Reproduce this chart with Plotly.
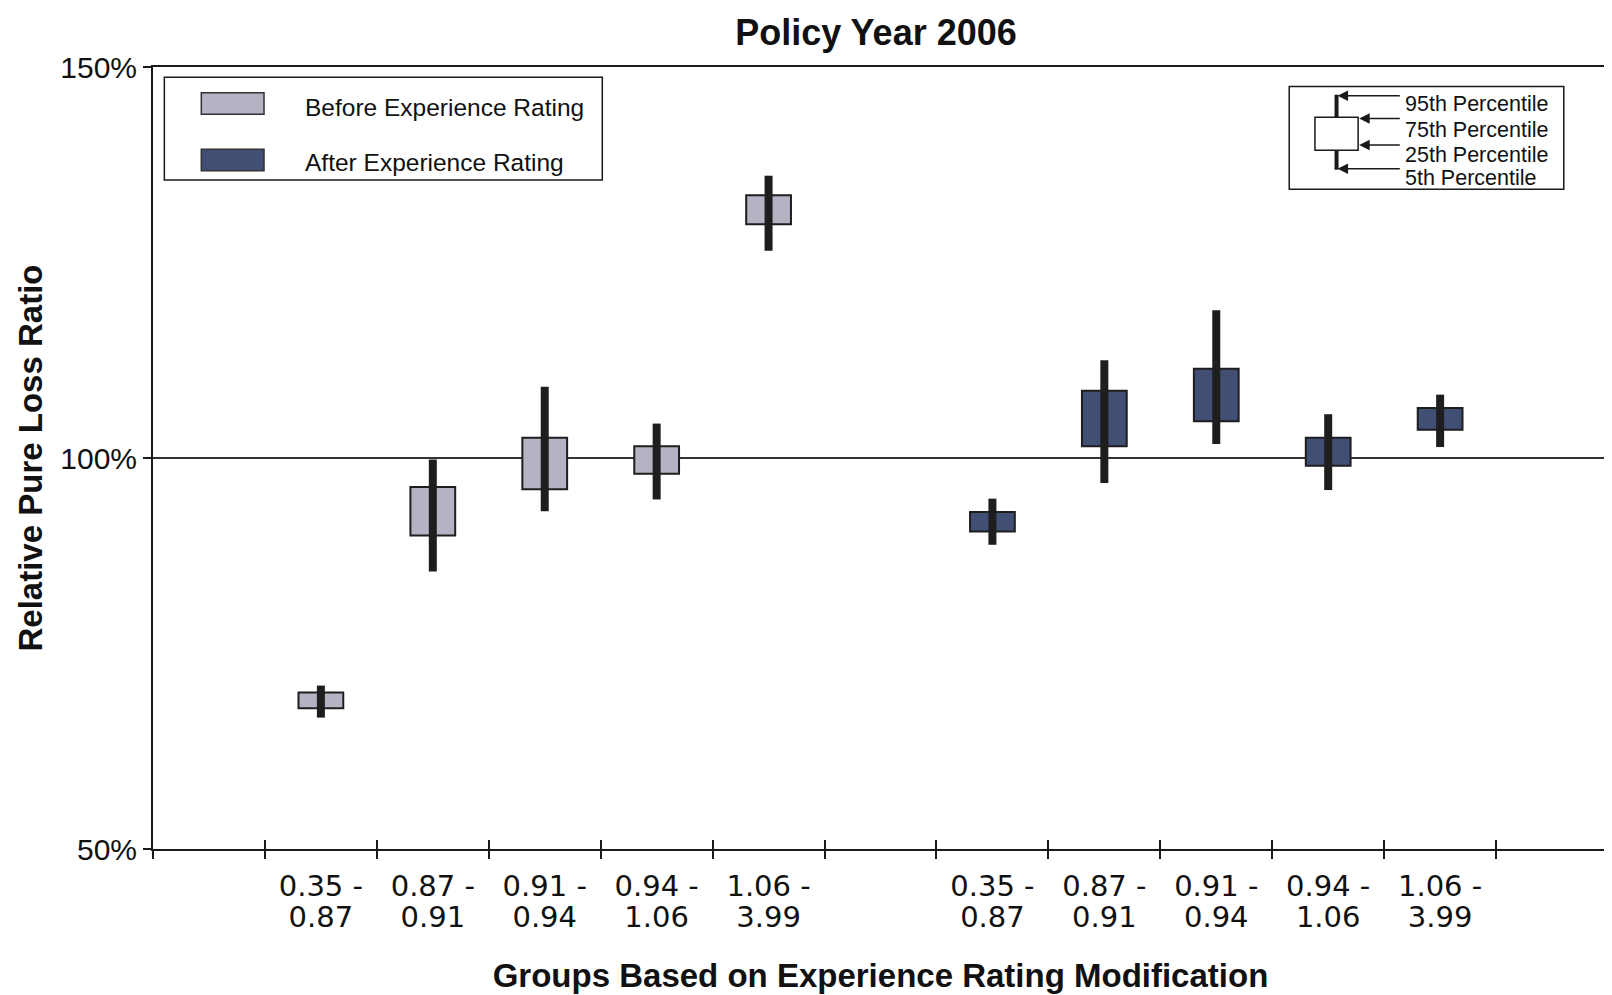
import plotly.graph_objects as go

groups_line1 = ["0.35 -", "0.87 -", "0.91 -", "0.94 -", "1.06 -"]
groups_line2 = ["0.87", "0.91", "0.94", "1.06", "3.99"]

# Percentile values (%)
before_p5 = [66.8, 85.5, 93.2, 94.7, 126.5]
before_p25 = [68.0, 90.1, 96.0, 98.0, 129.9]
before_p75 = [70.0, 96.3, 102.6, 101.5, 133.6]
before_p95 = [70.9, 99.8, 109.1, 104.4, 136.1]

after_p5 = [88.9, 96.8, 101.8, 95.9, 101.4]
after_p25 = [90.6, 101.5, 104.7, 99.0, 103.6]
after_p75 = [93.1, 108.6, 111.4, 102.6, 106.4]
after_p95 = [94.8, 112.5, 118.9, 105.6, 108.1]

before_pos = [1.5, 2.5, 3.5, 4.5, 5.5]
after_pos = [7.5, 8.5, 9.5, 10.5, 11.5]
slot_edges = list(range(0, 14))

C_BEFORE = "#b3b3c4"
C_AFTER = "#424f75"
C_DARK = "#1e1e1e"
TXT = "#111111"
FONT = "Liberation Sans, Arial, sans-serif"
TICKFONT = "DejaVu Sans, Liberation Sans, sans-serif"

fig = go.Figure()


def whiskers(pos, lo, hi):
    xs, ys = [], []
    for p, a, b in zip(pos, lo, hi):
        xs += [p, p, None]
        ys += [a, b, None]
    return xs, ys


for pos, p5, p25, p75, p95, col in [
    (before_pos, before_p5, before_p25, before_p75, before_p95, C_BEFORE),
    (after_pos, after_p5, after_p25, after_p75, after_p95, C_AFTER),
]:
    wx, wy = whiskers(pos, p5, p95)
    fig.add_trace(go.Scatter(x=wx, y=wy, mode="lines",
                             line=dict(color=C_DARK, width=8),
                             showlegend=False, hoverinfo="skip"))
    fig.add_trace(go.Bar(x=pos, base=p25,
                         y=[b - a for a, b in zip(p25, p75)],
                         width=0.4, marker=dict(color=col, line=dict(color=C_DARK, width=2)),
                         showlegend=False))

# dummy traces so the overlay axes render
for ax in ["x2", "x3", "x4"]:
    fig.add_trace(go.Scatter(x=[None], y=[None], xaxis=ax, showlegend=False))

tick_common = dict(range=[0, 13], overlaying="x", anchor="y", showgrid=False,
                   zeroline=False, showline=False, automargin=False)

fig.update_layout(
    width=1612, height=995,
    margin=dict(l=145, r=12, t=59, b=154),
    paper_bgcolor="white", plot_bgcolor="white",
    font=dict(family=FONT, color=TXT),
    title=dict(text="<b>Policy Year 2006</b>", xref="paper", x=0.4969,
               xanchor="center", yref="container", y=1 - 24 / 995, yanchor="middle",
               font=dict(size=36, family=FONT, color=TXT)),
    barmode="overlay",
    xaxis=dict(range=[0, 13], tickmode="array", tickvals=before_pos + after_pos,
               ticktext=groups_line1 + groups_line1, ticks="", showgrid=False, zeroline=False,
               showline=True, linecolor="#1a1a1a", linewidth=2, mirror=True,
               automargin=False,
               tickfont=dict(size=29, family=TICKFONT, color=TXT), ticklabelstandoff=10,
               title=dict(text="<b>Groups Based on Experience Rating Modification</b>",
                          font=dict(size=33, family=FONT, color=TXT), standoff=62)),
    xaxis4=dict(tickmode="array", tickvals=before_pos + after_pos,
                ticktext=groups_line2 + groups_line2, ticks="", showticklabels=True,
                tickfont=dict(size=29, family=TICKFONT, color=TXT), ticklabelstandoff=48,
                side="bottom", **tick_common),
    xaxis2=dict(tickmode="array", tickvals=slot_edges,
                ticks="outside", ticklen=9, tickwidth=2, tickcolor="#1a1a1a",
                showticklabels=False, **tick_common),
    xaxis3=dict(tickmode="array", tickvals=slot_edges,
                ticks="inside", ticklen=9, tickwidth=2, tickcolor="#1a1a1a",
                showticklabels=False, **tick_common),
    yaxis=dict(range=[50, 150], tickmode="array", tickvals=[50, 100, 150],
               ticktext=["50%", "100%", "150%"], ticks="outside", ticklen=8, tickwidth=2,
               tickcolor="#1a1a1a", showline=True, linecolor="#1a1a1a", linewidth=2,
               mirror=True, showgrid=True, gridcolor="#333333", gridwidth=1.5,
               zeroline=False, automargin=False,
               tickfont=dict(size=30, family=FONT, color=TXT)),
)

# ---- custom legend (top-left) ----
shapes = [
    dict(type="rect", xref="paper", yref="paper", x0=0.0078, x1=0.3088,
         y0=0.8555, y1=0.9869, line=dict(color="#1a1a1a", width=1.5),
         fillcolor="white", layer="above"),
    dict(type="rect", xref="paper", yref="paper", x0=0.0332, x1=0.0763,
         y0=0.9396, y1=0.9671, line=dict(color="#333", width=1.5),
         fillcolor=C_BEFORE, layer="above"),
    dict(type="rect", xref="paper", yref="paper", x0=0.0332, x1=0.0763,
         y0=0.8673, y1=0.8949, line=dict(color="#333", width=1.5),
         fillcolor=C_AFTER, layer="above"),
]

annotations = [
    dict(text="Before Experience Rating", xref="paper", yref="paper", x=0.1033, y=0.9488,
         xanchor="left", yanchor="middle", showarrow=False,
         font=dict(size=24.5, family=FONT, color=TXT)),
    dict(text="After Experience Rating", xref="paper", yref="paper", x=0.1033, y=0.8778,
         xanchor="left", yanchor="middle", showarrow=False,
         font=dict(size=24.5, family=FONT, color=TXT)),
    # y-axis title (rotated text at the far left, as in the reference)
    dict(text="<b>Relative Pure Loss Ratio</b>", xref="paper", yref="paper",
         x=-0.0842, y=0.5, xanchor="center", yanchor="middle", textangle=-90,
         showarrow=False, font=dict(size=33, family=FONT, color=TXT)),
]

# ---- percentile key (top-right) ----
S = 1568 / 1612


def px2x(px):
    return (px - 148) / 1415


def py2y(py):
    return (826 - py) / 761


shapes += [
    dict(type="rect", xref="paper", yref="paper", x0=px2x(1253), x1=px2x(1520),
         y0=py2y(184), y1=py2y(84), line=dict(color="#1a1a1a", width=1.5),
         fillcolor="white", layer="above"),
    dict(type="line", xref="paper", yref="paper", x0=px2x(1299), x1=px2x(1299),
         y0=py2y(165), y1=py2y(92), line=dict(color="#1a1a1a", width=4), layer="above"),
    dict(type="rect", xref="paper", yref="paper", x0=px2x(1278), x1=px2x(1320),
         y0=py2y(146), y1=py2y(114), line=dict(color="#1a1a1a", width=1.5),
         fillcolor="white", layer="above"),
]

key_labels = ["95th Percentile", "75th Percentile", "25th Percentile", "5th Percentile"]
key_text_y = [101, 126, 151, 173]
key_arrow = [(1300, 93), (1321, 115), (1321, 141), (1300, 164)]
for lbl, ty, (hx, hy) in zip(key_labels, key_text_y, key_arrow):
    annotations.append(dict(text=lbl, xref="paper", yref="paper", x=px2x(1364), y=py2y(ty),
                            xanchor="left", yanchor="middle", showarrow=False,
                            font=dict(size=21.5, family=FONT, color=TXT)))
    annotations.append(dict(text="", xref="paper", yref="paper", x=px2x(hx), y=py2y(hy),
                            ax=(1362 - hx) / S, ay=0, axref="pixel", ayref="pixel",
                            showarrow=True, arrowhead=2, arrowsize=1.4, arrowwidth=1.5,
                            arrowcolor="#1a1a1a"))

fig.update_layout(shapes=shapes, annotations=annotations)

fig.write_html("out.html")
